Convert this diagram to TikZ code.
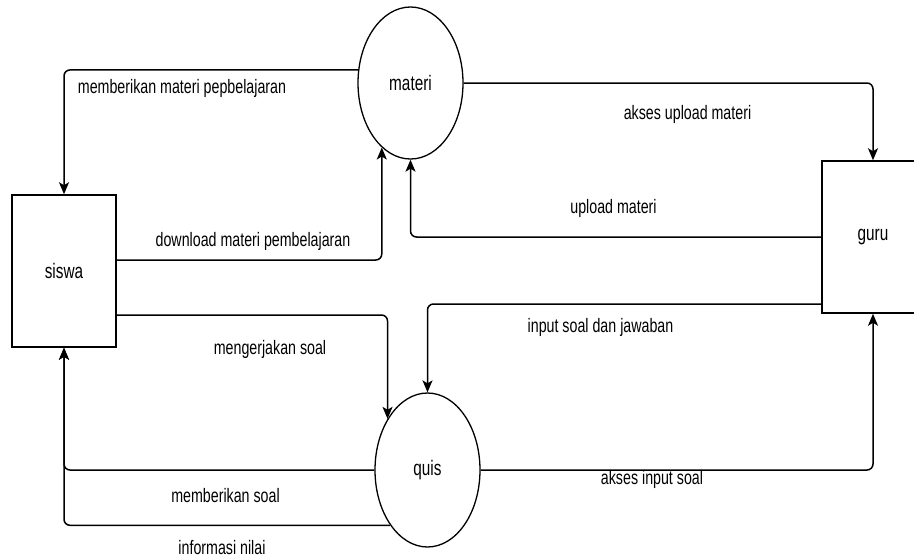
\documentclass[tikz,border=0pt]{standalone}
\usepackage{fontspec}
\setmainfont{Liberation Sans}[FakeStretch=0.73]
\usetikzlibrary{arrows.meta,shapes.geometric}

\tikzset{
  flow/.style={line width=1.5pt, rounded corners=6pt,
    -{Stealth[length=12pt,width=10pt,inset=3pt]}},
  proc/.style={ellipse, draw, line width=1.3pt, inner sep=0pt,
    minimum width=105pt, font=\fontsize{21}{24}\selectfont},
  entity/.style={rectangle, draw, line width=1.5pt, inner sep=0pt,
    font=\fontsize{21}{24}\selectfont},
  lbl/.style={anchor=base, inner sep=0pt, font=\fontsize{19.5}{22}\selectfont}
}

\begin{document}
\begin{tikzpicture}[x=1pt,y=-1pt]
  \useasboundingbox (0,0) rectangle (914,558);
  \clip (0,0) rectangle (914,558);

  % processes and external entities
  \node[proc, minimum height=152pt] (materi) at (410.5,83) {materi};
  \node[proc, minimum height=154pt] (quis) at (427.5,470) {quis};
  \node[entity, minimum width=104pt, minimum height=152pt] (siswa) at (64,271) {siswa};
  \node[entity, minimum width=102pt, minimum height=152pt] (guru) at (873,237) {guru};

  % data flows
  \draw[flow] (materi.166) -| (siswa.north);
  \draw[flow] ([yshift=11pt]siswa.east) -| (materi.246);
  \draw[flow] (guru.west) -| (materi.south);
  \draw[flow] (materi.east) -| (guru.north);
  \draw[flow] ([yshift=-67pt]guru.west) -| (quis.north);
  \draw[flow] ([yshift=-44pt]siswa.east) -| (quis.128);
  \draw[flow] (quis.west) -| (siswa.south);
  \draw[flow] (quis.236) -| (siswa.south);
  \draw[flow] (quis.east) -| (guru.south);

  % flow labels
  \node[lbl] (l1) at (182,93) {memberikan materi pepbelajaran};
  \node[lbl] (l2) at (253,246) {download materi pembelajaran};
  \node[lbl] (l3) at (687.5,119.5) {akses upload materi};
  \node[lbl] (l4) at (613.5,213) {upload materi};
  \node[lbl] (l5) at (600.5,332) {input soal dan jawaban};
  \node[lbl] (l6) at (270,354) {mengerjakan soal};
  \node[lbl] (l7) at (225.5,502) {memberikan soal};
  \node[lbl] (l8) at (222,554.5) {informasi nilai};
  \node[lbl] (l9) at (652,484) {akses input soal};
\end{tikzpicture}
\end{document}
